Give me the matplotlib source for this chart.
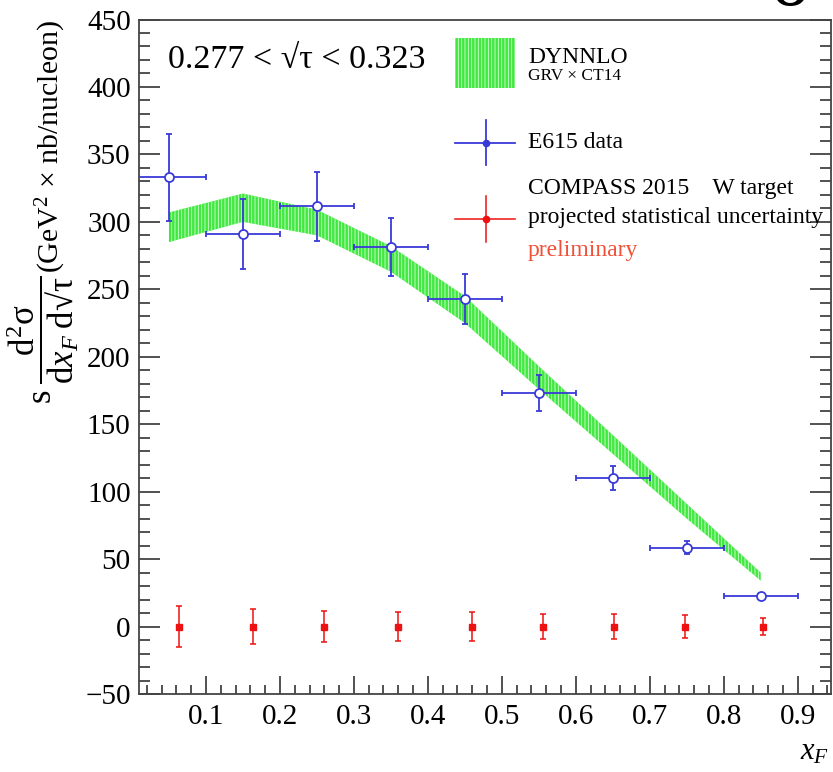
import matplotlib
matplotlib.use("Agg")
import matplotlib.pyplot as plt
from matplotlib.ticker import MultipleLocator
from matplotlib.patches import Rectangle
from matplotlib.lines import Line2D
import numpy as np

plt.rcParams['font.family'] = ['Liberation Serif', 'DejaVu Serif']
plt.rcParams['mathtext.fontset'] = 'custom'
plt.rcParams['mathtext.rm'] = 'Liberation Serif'
plt.rcParams['mathtext.it'] = 'Liberation Serif:italic'
plt.rcParams['mathtext.bf'] = 'Liberation Serif:bold'
plt.rcParams['mathtext.fallback'] = 'stix'
plt.rcParams['hatch.linewidth'] = 0.6

# ---- data ----
xf_bins = [0.05, 0.15, 0.25, 0.35, 0.45, 0.55, 0.65, 0.75, 0.85]
xf_halfwidth = [0.05] * 9
e615_val = [333, 291, 311.5, 281, 243, 173, 110, 58.5, 22.5]
e615_err = [32, 26, 25.5, 21.5, 18.5, 13.5, 9, 4.7, 2.5]

band_x = [0.05, 0.15, 0.25, 0.35, 0.45, 0.55, 0.65, 0.75, 0.85]
band_lo = [285, 300, 290, 263, 225, 176, 128, 80, 34]
band_hi = [307, 321, 309, 282, 245, 193, 142, 91, 40]

compass_x = [0.064, 0.163, 0.259, 0.360, 0.460, 0.556, 0.652, 0.748, 0.853]
compass_val = [0, 0, 0, 0, 0, 0, 0, 0, 0]
compass_err = [15.5, 13, 11.5, 11, 10.5, 9.5, 9.5, 8.5, 6.5]

x_ticks = [0.1, 0.2, 0.3, 0.4, 0.5, 0.6, 0.7, 0.8, 0.9]
y_ticks = [-50, 0, 50, 100, 150, 200, 250, 300, 350, 400, 450]

green = '#40e840'
blue = '#3a3ad8'
red = '#ee1111'

fig = plt.figure(figsize=(8.33, 7.72), dpi=100)
ax = fig.add_axes([139/833, 1-694/772, 692/833, 674.5/772])

# theory band
ax.fill_between(band_x, band_lo, band_hi, facecolor=green, edgecolor='#d8ffd8',
                hatch='|||||', linewidth=0, zorder=2)

# E615 data
ax.errorbar(xf_bins, e615_val, xerr=xf_halfwidth, yerr=e615_err, fmt='o',
            ms=6.5, mfc='white', mec=blue, mew=1.3, color=blue, elinewidth=1.3,
            capsize=2.5, capthick=1.3, zorder=4, clip_on=True)

# COMPASS projection
ax.errorbar(compass_x, compass_val, yerr=compass_err, fmt='s', ms=4.8,
            color=red, mfc=red, mec=red, elinewidth=1.1, capsize=2.5,
            capthick=1.1, zorder=4)

ax.set_xlim(0.0095, 0.945)
ax.set_ylim(-50, 450)
ax.set_xticks(x_ticks)
ax.set_xticklabels([f'{v:.1f}' for v in x_ticks])
ax.set_yticks(y_ticks)
ax.xaxis.set_minor_locator(MultipleLocator(0.02))
ax.yaxis.set_minor_locator(MultipleLocator(10))
ax.tick_params(axis='both', which='both', direction='in', width=1.2,
               colors='#333333', labelcolor='black', labelsize=21)
ax.tick_params(axis='y', which='major', length=15, pad=6, right=True)
ax.tick_params(axis='y', which='minor', length=8, right=True)
ax.tick_params(axis='x', which='major', length=13, pad=7, top=False)
ax.tick_params(axis='x', which='minor', length=6.5, top=False)
for s in ax.spines.values():
    s.set_linewidth(1.3)
    s.set_color('#444444')

# y label: unit part at the top, fraction below it
ax.text((51-139)/692, 1.0, r'(GeV$^{2}$ $\times$ nb/nucleon)',
        rotation=90, ha='center', va='top', fontsize=21.5, transform=ax.transAxes)
ax.text((43-139)/692, (694-276)/674.5,
        '$\\mathrm{s}\\;\\dfrac{\\mathrm{d}^{2}\\mathrm{\u03c3}}'
        '{\\mathrm{d}x_{F}\\;\\mathrm{d\u221a\u03c4}}$',
        rotation=90, ha='center', va='top', fontsize=25, transform=ax.transAxes)

# x label
fig.text(815/833, 1-752/772, r'$x_{F}$', fontsize=22, ha='center', va='center')

# range text
ax.text(0.042, 0.94, '0.277 < \u221a\u03c4 < 0.323', fontsize=24.5,
        ha='left', va='center', transform=ax.transAxes)

# legend (manual)
ax.add_patch(Rectangle((0.4566, 0.8985), 0.0868, 0.0741, transform=ax.transAxes,
                       facecolor=green, edgecolor='#d8ffd8', hatch='|||||',
                       linewidth=0, zorder=5))
ax.text(0.562, 0.9437, 'DYNNLO', fontsize=17, ha='left', va='center',
        transform=ax.transAxes)
ax.text(0.562, 0.9155, 'GRV \u00d7 CT14', fontsize=12.5, ha='left', va='center',
        transform=ax.transAxes)

lx, ly = 0.5014, 0.8175
ax.add_line(Line2D([0.4566, 0.5434], [ly, ly], color=blue, lw=1.3,
                   transform=ax.transAxes))
ax.add_line(Line2D([lx, lx], [ly-0.0334, ly+0.0334], color=blue, lw=1.3,
                   transform=ax.transAxes))
ax.add_line(Line2D([lx], [ly], marker='o', ms=4.5, color=blue,
                   transform=ax.transAxes))
ax.text(0.562, ly, 'E615 data', fontsize=17, ha='left', va='center',
        transform=ax.transAxes)

ax.text(0.562, 0.749, 'COMPASS 2015    W target', fontsize=17, ha='left',
        va='center', transform=ax.transAxes)
ry = 0.704
ax.add_line(Line2D([0.4566, 0.5434], [ry, ry], color=red, lw=1.1,
                   transform=ax.transAxes))
ax.add_line(Line2D([lx, lx], [ry-0.0341, ry+0.0341], color=red, lw=1.1,
                   transform=ax.transAxes))
ax.add_line(Line2D([lx], [ry], marker='o', ms=4.5, color=red,
                   transform=ax.transAxes))
ax.text(0.562, 0.707, 'projected statistical uncertainty', fontsize=17, ha='left',
        va='center', transform=ax.transAxes, clip_on=False)
ax.text(0.562, 0.658, 'preliminary', fontsize=17, ha='left', va='center',
        color='#f05038', transform=ax.transAxes)

# partial glyph at the top edge of the image (cut off in the reference)
fig.text(790/833, 1 - 5/772, 'o', fontsize=56, color='black', ha='center',
         va='baseline')

fig.savefig('out.png', dpi=100)
